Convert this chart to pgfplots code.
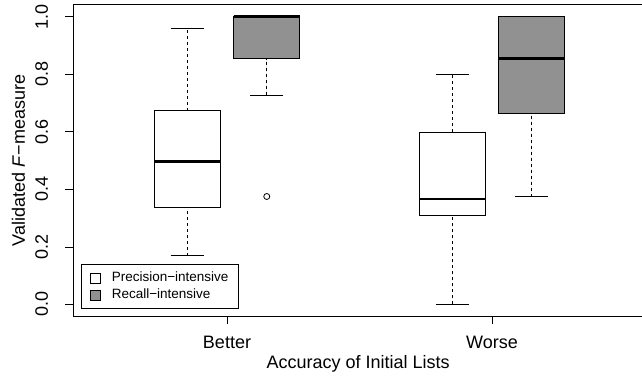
\documentclass[border=0pt]{standalone}
\usepackage{fontspec}
\setmainfont{Liberation Sans}
\usepackage{pgfplots}
\pgfplotsset{compat=1.18}
\usepgfplotslibrary{statistics}
\definecolor{boxgray}{gray}{0.57}
\pgfplotsset{
  sqlegend/.style={legend image code/.code={\draw[line width=0.75bp,##1] (0bp,-5bp) rectangle (10bp,5bp);}},
}
\begin{document}
\fontsize{18bp}{21bp}\selectfont
\begin{tikzpicture}
\begin{axis}[
  name=ax,
  at={(0,0)}, anchor=south west,
  scale only axis,
  width=569.75bp, height=311bp,
  xmin=0.42, xmax=2.57, ymin=-0.04, ymax=1.04,
  xtick={1,2}, xticklabels={Better,Worse},
  ytick={0,0.2,0.4,0.6,0.8,1.0}, yticklabels={0.0,0.2,0.4,0.6,0.8,1.0},
  tick pos=left, tick align=outside, major tick length=8bp,
  tick style={black, line width=0.75bp},
  axis line style={line width=1bp},
  xticklabel style={anchor=north, inner sep=0pt},
  yticklabel style={rotate=90, anchor=south, inner sep=0pt},
  xticklabel shift=12bp,
  yticklabel shift=17bp,
  every axis x label/.style={at={([yshift=-39bp]axis description cs:0.5,0)}, anchor=north, inner sep=0pt},
  every axis y label/.style={at={([xshift=-48bp]axis description cs:0,0.5)}, rotate=90, anchor=south, inner sep=0pt},
  xlabel={Accuracy of Initial Lists},
  ylabel={Validated \textit{F}−measure},
  legend style={at={(axis description cs:0.013,0.0225)}, anchor=south west,
    draw=black, line width=0.75bp, font=\fontsize{13.5bp}{15bp}\selectfont,
    inner xsep=9bp, inner ysep=6bp, row sep=3bp, column sep=10bp,
    nodes={inner sep=1bp}, cells={anchor=west}},
  boxplot/draw direction=y,
  boxplot/draw/lower whisker/.code={%
    \draw[dash pattern=on 3bp off 3bp] (boxplot box cs:\pgfplotsboxplotvalue{lower whisker},0.5) -- (boxplot box cs:\pgfplotsboxplotvalue{lower quartile},0.5);
    \draw (boxplot whisker cs:\pgfplotsboxplotvalue{lower whisker},0) -- (boxplot whisker cs:\pgfplotsboxplotvalue{lower whisker},1);
  },
  boxplot/draw/upper whisker/.code={%
    \draw[dash pattern=on 3bp off 3bp] (boxplot box cs:\pgfplotsboxplotvalue{upper quartile},0.5) -- (boxplot box cs:\pgfplotsboxplotvalue{upper whisker},0.5);
    \draw (boxplot whisker cs:\pgfplotsboxplotvalue{upper whisker},0) -- (boxplot whisker cs:\pgfplotsboxplotvalue{upper whisker},1);
  },
  boxplot/every median/.style={line width=2.5bp},
]
% Better, precision-intensive
\addplot[forget plot, draw=black, fill=white, line width=0.8bp,
  boxplot prepared={draw position=0.85, box extend=0.25, whisker extend=0.125,
    lower whisker=0.170, lower quartile=0.338, median=0.4965,
    upper quartile=0.6725, upper whisker=0.958}] coordinates {};
% Better, recall-intensive
\addplot[forget plot, draw=black, fill=boxgray, line width=0.8bp,
  boxplot prepared={draw position=1.15, box extend=0.25, whisker extend=0.125,
    lower whisker=0.726, lower quartile=0.853, median=1.0,
    upper quartile=1.0, upper whisker=1.0}] coordinates {};
% Worse, precision-intensive
\addplot[forget plot, draw=black, fill=white, line width=0.8bp,
  boxplot prepared={draw position=1.85, box extend=0.25, whisker extend=0.125,
    lower whisker=0.0, lower quartile=0.308, median=0.366,
    upper quartile=0.599, upper whisker=0.799}] coordinates {};
% Worse, recall-intensive
\addplot[forget plot, draw=black, fill=boxgray, line width=0.8bp,
  boxplot prepared={draw position=2.15, box extend=0.25, whisker extend=0.125,
    lower whisker=0.374, lower quartile=0.665, median=0.854,
    upper quartile=1.0, upper whisker=1.0}] coordinates {};
% outlier
\addplot[forget plot, only marks, mark=o, mark size=3bp, black, mark options={line width=0.8bp}] coordinates {(1.15,0.375)};
\addlegendimage{sqlegend, draw=black, fill=white}
\addlegendentry{Precision−intensive}
\addlegendimage{sqlegend, draw=black, fill=boxgray}
\addlegendentry{Recall−intensive}
\end{axis}
\pgfresetboundingbox
\useasboundingbox ([xshift=-73.3bp,yshift=-61bp]ax.south west) rectangle ([xshift=-1.05bp,yshift=5bp]ax.north east);
\end{tikzpicture}
\end{document}
